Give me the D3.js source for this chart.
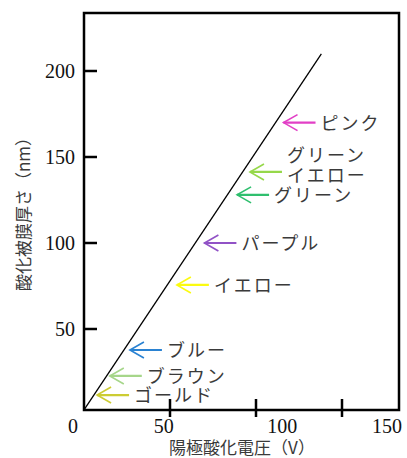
<!DOCTYPE html>
<html>
<head>
<meta charset="utf-8">
<script src="https://cdn.jsdelivr.net/npm/d3@7"></script>
<style>
  body { margin: 0; background: #fff; }
  .num { font-family: "Liberation Serif", "DejaVu Serif", serif; font-size: 20px; fill: #111; }
  .jp { font-family: "Noto Sans CJK JP", sans-serif; font-weight: 400; fill: #3a3a3a; }
</style>
</head>
<body>
<script>

// line: anodizing voltage (V) vs film thickness (nm)
const lineVolts = [0, 138];
const lineNm = [3, 210];

// colour arrows
const arrowNames = [["ピンク"], ["グリーン", "イエロー"], ["グリーン"], ["パープル"], ["イエロー"], ["ブルー"], ["ブラウン"], ["ゴールド"]];
const arrowVolts = [116, 96.5, 89, 70, 54, 26.7, 15, 7.6];
const arrowNm = [170, 141.3, 128, 100, 75.6, 37.8, 22.7, 11.6];
const arrowColors = ["#e23fc6", "#96d84a", "#2fbf6e", "#9152c6", "#fbfb10", "#2a82d2", "#a6d68a", "#cccc33"];

const xTicks = [50, 100, 150];
const xTickLabels = ["0", "50", "100", "150"];
const yTicks = [50, 100, 150, 200];

const width = 407, height = 458;
const box = { left: 84, right: 399, top: 13, bottom: 410 };

const svg = d3.select("body").append("svg")
    .attr("width", width)
    .attr("height", height);

const x = d3.scaleLinear().domain([0, 150]).range([84, 342]);
const y = d3.scaleLinear().domain([0, 200]).range([415, 71]);
// tick labels under the x axis sit on their own spacing in the original
const xLab = d3.scaleLinear().domain([0, 150]).range([73, 387]);
const xLabNudge = { "50": -14 };

// frame
svg.append("rect")
    .attr("x", box.left).attr("y", box.top)
    .attr("width", box.right - box.left).attr("height", box.bottom - box.top)
    .attr("fill", "none").attr("stroke", "#000").attr("stroke-width", 2.5);

// y ticks (inside)
svg.selectAll(".ytick").data(yTicks).enter().append("line")
    .attr("x1", box.left).attr("x2", box.left + 13)
    .attr("y1", d => y(d)).attr("y2", d => y(d))
    .attr("stroke", "#000").attr("stroke-width", 2.5);

svg.selectAll(".ylab").data(yTicks).enter().append("text")
    .attr("class", "num")
    .attr("x", 75).attr("y", d => y(d))
    .attr("dy", "0.35em")
    .attr("text-anchor", "end")
    .text(d => d);

// x ticks (crossing the axis)
svg.selectAll(".xtick").data(xTicks).enter().append("line")
    .attr("x1", d => x(d)).attr("x2", d => x(d))
    .attr("y1", box.bottom - 11).attr("y2", box.bottom + 7)
    .attr("stroke", "#000").attr("stroke-width", 2.5);

svg.selectAll(".xlab").data(xTickLabels).enter().append("text")
    .attr("class", "num")
    .attr("x", d => xLab(+d) + (xLabNudge[d] || 0))
    .attr("y", 433)
    .attr("text-anchor", "middle")
    .text(d => d);

// axis titles
svg.append("text")
    .attr("class", "jp")
    .attr("x", 242).attr("y", 448)
    .attr("dy", "0.35em")
    .attr("text-anchor", "middle")
    .style("font-size", "17px")
    .text("陽極酸化電圧（V）");

svg.append("text")
    .attr("class", "jp")
    .attr("transform", "translate(24,210) rotate(-90)")
    .attr("dy", "0.35em")
    .attr("text-anchor", "middle")
    .style("font-size", "17px")
    .text("酸化被膜厚さ（nm）");

// thickness line
const linePts = lineVolts.map((v, i) => [v, lineNm[i]]);
svg.append("path")
    .datum(linePts)
    .attr("fill", "none")
    .attr("stroke", "#000")
    .attr("stroke-width", 1.3)
    .attr("d", d3.line().x(d => x(d[0])).y(d => y(d[1])));

// arrows + names
const arrows = arrowNames.map((names, i) => ({
    names: names, v: arrowVolts[i], nm: arrowNm[i], color: arrowColors[i]
}));

const shaft = 32;
const g = svg.selectAll(".arrow").data(arrows).enter().append("g")
    .attr("transform", d => `translate(${x(d.v)},${y(d.nm)})`);

g.append("line")
    .attr("x1", 0).attr("x2", shaft).attr("y1", 0).attr("y2", 0)
    .attr("stroke", d => d.color).attr("stroke-width", 2.2);

g.append("path")
    .attr("d", "M14,-8 L0,0 L14,8")
    .attr("fill", "none")
    .attr("stroke", d => d.color).attr("stroke-width", 1.6);

g.each(function(d) {
    const t = d3.select(this).append("text")
        .attr("class", "jp")
        .style("font-size", "18px")
        .style("letter-spacing", "2px");
    const n = d.names.length;
    d.names.forEach((s, j) => {
        t.append("tspan")
            .attr("x", shaft + 5)
            .attr("y", n > 1 ? (j - n + 1) * 20 + 4 : 1)
            .attr("dy", "0.35em")
            .text(s);
    });
});

</script>
</body>
</html>
